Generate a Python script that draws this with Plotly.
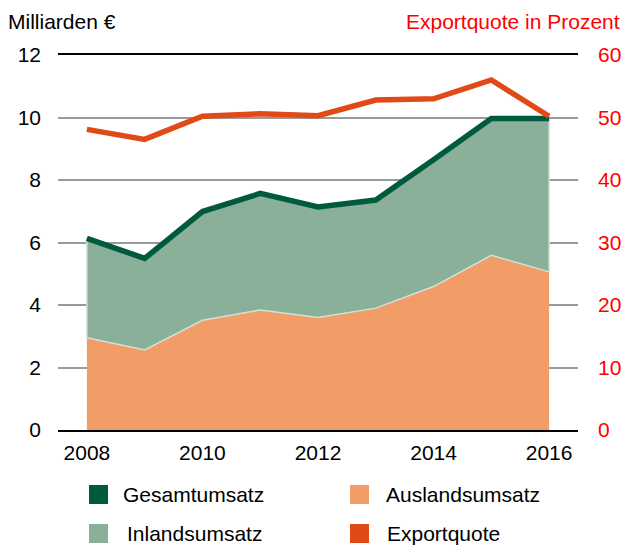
import plotly.graph_objects as go

years = [2008, 2009, 2010, 2011, 2012, 2013, 2014, 2015, 2016]
gesamtumsatz = [6.13, 5.49, 6.99, 7.57, 7.14, 7.36, 8.65, 9.97, 9.97]
auslandsumsatz = [2.95, 2.56, 3.51, 3.84, 3.60, 3.90, 4.59, 5.59, 5.06]
exportquote = [48.1, 46.5, 50.2, 50.6, 50.3, 52.8, 53.0, 56.0, 50.2]

left_ticks = [0, 2, 4, 6, 8, 10, 12]
right_ticks = [0, 10, 20, 30, 40, 50, 60]
x_ticks = [2008, 2010, 2012, 2014, 2016]

C_GESAMT = "#005A3E"
C_INLAND = "#8AB09A"
C_AUSLAND = "#F29D68"
C_EXPORT = "#E04A17"
C_EDGE = "#CFE3D6"
RED = "#FF0000"
FONT = "Liberation Sans, Arial, sans-serif"

fig = go.Figure()

fig.add_trace(go.Scatter(
    x=years, y=auslandsumsatz, mode="lines", fill="tozeroy",
    fillcolor=C_AUSLAND, line=dict(color=C_EDGE, width=1.5),
    showlegend=False, hoverinfo="skip"))

fig.add_trace(go.Scatter(
    x=years, y=gesamtumsatz, mode="lines", fill="tonexty",
    fillcolor=C_INLAND, line=dict(color="rgba(0,0,0,0)", width=0),
    showlegend=False, hoverinfo="skip"))

# light edges of the domestic area at both ends
for i in (0, len(years) - 1):
    fig.add_trace(go.Scatter(
        x=[years[i], years[i]], y=[auslandsumsatz[i], gesamtumsatz[i]],
        mode="lines", line=dict(color=C_EDGE, width=1.5),
        showlegend=False, hoverinfo="skip"))

fig.add_trace(go.Scatter(
    x=years, y=gesamtumsatz, mode="lines",
    line=dict(color=C_GESAMT, width=5.5),
    showlegend=False, hoverinfo="skip"))

fig.add_trace(go.Scatter(
    x=years, y=exportquote, mode="lines", yaxis="y2",
    line=dict(color=C_EXPORT, width=5.5),
    showlegend=False, hoverinfo="skip"))

# plot area in pixels
W, H = 622, 546
L, R, T, B = 58, 578, 55, 430


def px(xp):
    return (xp - L) / (R - L)


def py(yp):
    return (B - yp) / (B - T)


legend_items = [
    ("Gesamtumsatz", C_GESAMT, 89, 485, 121),
    ("Auslandsumsatz", C_AUSLAND, 350, 485, 384),
    ("Inlandsumsatz", C_INLAND, 89, 524, 125),
    ("Exportquote", C_EXPORT, 350, 524, 385),
]
shapes = []
annotations = []
for label, color, sx, sy, tx in legend_items:
    shapes.append(dict(type="rect", xref="paper", yref="paper",
                       x0=px(sx), x1=px(sx + 19), y0=py(sy), y1=py(sy + 19),
                       fillcolor=color, line=dict(width=0)))
    annotations.append(dict(text=label, xref="paper", yref="paper",
                            x=px(tx), y=py(sy + 9.5), xanchor="left", yanchor="middle",
                            showarrow=False, font=dict(family=FONT, size=21, color="#000")))

annotations.append(dict(text="Milliarden €", xref="paper", yref="paper",
                        x=px(6), y=py(21), xanchor="left", yanchor="middle",
                        showarrow=False, font=dict(family=FONT, size=21, color="#000")))
annotations.append(dict(text="Exportquote in Prozent", xref="paper", yref="paper",
                        x=px(622), y=py(21), xanchor="right", yanchor="middle",
                        showarrow=False, font=dict(family=FONT, size=21, color=RED)))

fig.update_layout(
    template="none",
    autosize=False,
    width=W, height=H,
    margin=dict(l=L, r=W - R, t=T, b=H - B, pad=0),
    paper_bgcolor="white", plot_bgcolor="white",
    font=dict(family=FONT, size=21, color="#000"),
    showlegend=False,
    shapes=shapes, annotations=annotations,
    xaxis=dict(range=[2007.5, 2016.5], tickvals=x_ticks, ticktext=[str(v) for v in x_ticks],
               showgrid=False, zeroline=False, showline=True, mirror=True, automargin=False,
               linecolor="#000", linewidth=2, ticks="", ticklabelstandoff=3,
               tickfont=dict(size=21, color="#000"), fixedrange=True),
    yaxis=dict(range=[0, 12], tickvals=left_ticks, showgrid=True, gridcolor="#9A9A9A",
               gridwidth=1.5, zeroline=False, showline=False, ticks="", automargin=False,
               ticklabelstandoff=16, tickfont=dict(size=21, color="#000"), fixedrange=True),
    yaxis2=dict(range=[0, 60], tickvals=right_ticks, overlaying="y", side="right",
                showgrid=False, zeroline=False, showline=False, ticks="", automargin=False,
                ticklabelstandoff=19, tickfont=dict(size=21, color=RED), fixedrange=True),
)

fig.write_html("out.html", config={"displayModeBar": False, "responsive": False},
               post_script="document.body.style.margin='0';document.body.style.overflow='hidden';")
